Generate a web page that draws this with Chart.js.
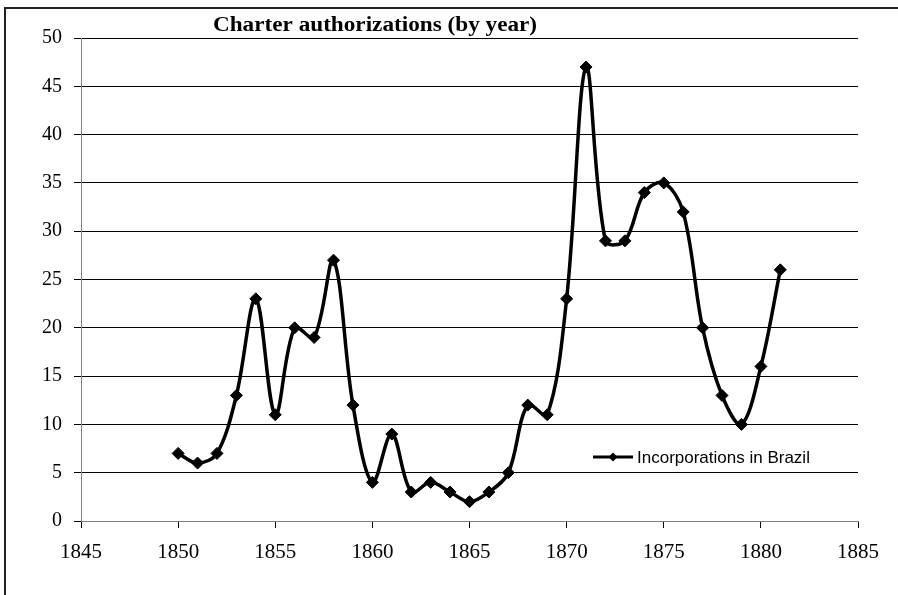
<!DOCTYPE html>
<html>
<head>
<meta charset="utf-8">
<script src="https://cdn.jsdelivr.net/npm/chart.js@4/dist/chart.umd.min.js"></script>
<style>
  html, body { margin: 0; padding: 0; background: #fff; }
  #wrap { width: 898px; height: 595px; position: relative; }
</style>
</head>
<body>
<div id="wrap"><canvas id="c" width="898" height="595"></canvas></div>
<script>
const years = [1850,1851,1852,1853,1854,1855,1856,1857,1858,1859,1860,1861,1862,1863,1864,1865,1866,1867,1868,1869,1870,1871,1872,1873,1874,1875,1876,1877,1878,1879,1880,1881];
const incorporations = [7,6,7,13,23,11,20,19,27,12,4,9,3,4,3,2,3,5,12,11,23,47,29,29,34,35,32,20,13,10,16,26];
const seriesName = "Incorporations in Brazil";
const chartTitle = "Charter authorizations (by year)";
const xTicks = [1845,1850,1855,1860,1865,1870,1875,1880,1885];
const yTicks = [0,5,10,15,20,25,30,35,40,45,50];

const points = years.map((yr, i) => ({ x: yr, y: incorporations[i] }));

const decor = {
  id: 'decor',
  beforeDraw(chart) {
    const ctx = chart.ctx;
    ctx.save();
    ctx.fillStyle = '#fff';
    ctx.fillRect(0, 0, chart.width, chart.height);
    ctx.strokeStyle = '#222';
    ctx.lineWidth = 2;
    ctx.beginPath();
    ctx.moveTo(5, 600);
    ctx.lineTo(5, 8);
    ctx.lineTo(900, 8);
    ctx.stroke();
    ctx.restore();
  },
  afterDraw(chart) {
    const ctx = chart.ctx;
    ctx.save();
    // title
    ctx.fillStyle = '#000';
    ctx.font = 'bold 20px "Liberation Serif", "Times New Roman", serif';
    ctx.textAlign = 'center';
    ctx.textBaseline = 'middle';
    ctx.save();
    ctx.translate(375, 26);
    ctx.scale(1.16, 1);
    ctx.fillText(chartTitle, 0, 0);
    ctx.restore();
    // legend
    const ly = 457;
    ctx.strokeStyle = '#000';
    ctx.lineWidth = 3;
    ctx.beginPath();
    ctx.moveTo(593, ly);
    ctx.lineTo(633, ly);
    ctx.stroke();
    ctx.beginPath();
    ctx.moveTo(613, ly - 4.5);
    ctx.lineTo(617.5, ly);
    ctx.lineTo(613, ly + 4.5);
    ctx.lineTo(608.5, ly);
    ctx.closePath();
    ctx.fill();
    ctx.font = '17px "Liberation Sans", Arial, sans-serif';
    ctx.textAlign = 'left';
    ctx.fillText(seriesName, 637, ly + 1);
    ctx.restore();
  }
};

new Chart(document.getElementById('c'), {
  type: 'line',
  data: {
    datasets: [{
      label: seriesName,
      data: points,
      borderColor: '#000',
      backgroundColor: '#000',
      borderWidth: 3.5,
      tension: 0.35,
      pointStyle: 'rectRot',
      pointRadius: 6,
      pointBackgroundColor: '#000',
      pointBorderColor: '#000',
      pointBorderWidth: 1,
      fill: false
    }]
  },
  options: {
    responsive: false,
    animation: false,
    events: [],
    layout: { padding: { left: 0, top: 38, right: 40, bottom: 0 } },
    plugins: {
      legend: { display: false },
      title: { display: false },
      tooltip: { enabled: false }
    },
    scales: {
      x: {
        type: 'linear',
        min: xTicks[0],
        max: xTicks[xTicks.length - 1],
        afterBuildTicks(scale) { scale.ticks = xTicks.map(v => ({ value: v })); },
        afterFit(scale) { scale.height = 74; },
        grid: { drawOnChartArea: false, drawTicks: true, tickLength: 7, color: '#000' },
        border: { display: true, color: '#808080', width: 1 },
        ticks: {
          color: '#000',
          padding: 12,
          maxRotation: 0,
          font: { family: '"Liberation Serif", "Times New Roman", serif', size: 21 },
          callback: v => String(v)
        }
      },
      y: {
        type: 'linear',
        min: yTicks[0],
        max: yTicks[yTicks.length - 1],
        afterBuildTicks(scale) { scale.ticks = yTicks.map(v => ({ value: v })); },
        afterFit(scale) { scale.width = 81; },
        grid: { drawOnChartArea: true, drawTicks: true, tickLength: 7, color: '#000', lineWidth: 1 },
        border: { display: true, color: '#808080', width: 1 },
        ticks: {
          color: '#000',
          padding: 12,
          font: { family: '"Liberation Serif", "Times New Roman", serif', size: 20 },
          callback: v => String(v)
        }
      }
    }
  },
  plugins: [decor]
});
</script>
</body>
</html>
